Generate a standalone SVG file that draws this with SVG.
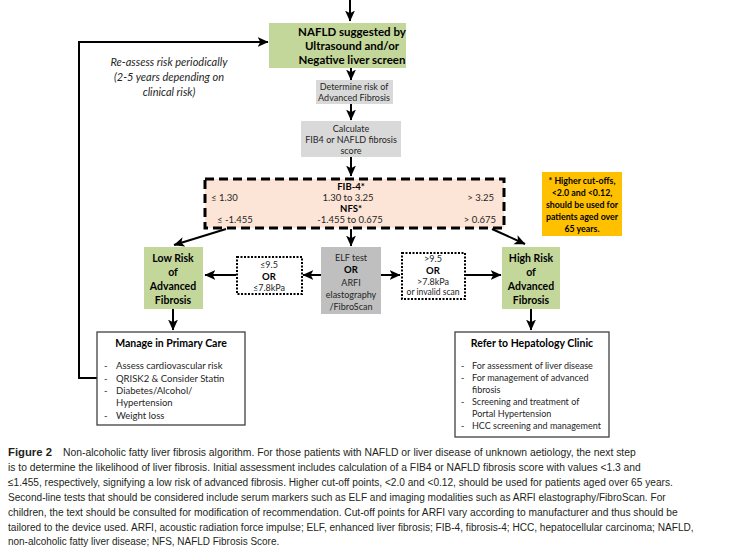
<svg xmlns="http://www.w3.org/2000/svg" width="729" height="554" viewBox="0 0 729 554">
<defs>
<marker id="ah" markerUnits="userSpaceOnUse" markerWidth="11" markerHeight="11" viewBox="0 0 10 10" refX="9.5" refY="5" orient="auto">
<path d="M0,0.5 L10,5 L0,9.5 L2.5,5 z" fill="#000"/>
</marker>
<style>
.t{font-family:Lato,"Open Sans","Liberation Sans",sans-serif;fill:#262626}
.b{font-weight:bold;fill:#000}
.c{text-anchor:middle}
.ar{fill:none;stroke:#000;stroke-width:2;marker-end:url(#ah)}
.green{fill:#c4d79b}
.grey{fill:#d9d9d9}
.dgrey{fill:#bfbfbf}
.dot{fill:#fff;stroke:#000;stroke-width:2;stroke-dasharray:2 1.5}
.list{fill:#fff;stroke:#404040;stroke-width:1.3}
.cap{font-family:"Liberation Sans",Arial,sans-serif;font-size:10.8px;fill:#231f20}
</style>
</defs>
<rect width="729" height="554" fill="#fff"/>

<g id="connectors">
<path class="ar" d="M350,0 V21"/>
<path class="ar" d="M351,68 V80"/>
<path class="ar" d="M351,104 V120"/>
<path class="ar" d="M351,157 V176"/>
<path class="ar" d="M351,229 V246"/>
<path class="ar" d="M226,229 L174,245"/>
<path class="ar" d="M492,229 L525,244"/>
<path class="ar" d="M321,275 H303"/>
<path class="ar" d="M236,275 H205"/>
<path class="ar" d="M381,275 H400"/>
<path class="ar" d="M466,275 H501"/>
<path class="ar" d="M173,309 V330"/>
<path class="ar" d="M531,309 V330"/>
<path class="ar" d="M97,378 H79 V42 H268"/>
</g>

<g id="reassess">
<text class="t c" x="169" y="66" font-size="11" font-style="italic">Re-assess risk periodically</text>
<text class="t c" x="169" y="81" font-size="11" font-style="italic">(2-5 years depending on</text>
<text class="t c" x="169" y="96" font-size="11" font-style="italic">clinical risk)</text>
</g>

<g id="nafld">
<rect class="green" x="269" y="23" width="137" height="45"/>
<text class="t b c" x="352" y="36" font-size="11.5">NAFLD suggested by</text>
<text class="t b c" x="352" y="50" font-size="11.5">Ultrasound and/or</text>
<text class="t b c" x="352" y="64" font-size="11.5">Negative liver screen</text>
</g>

<g id="determine">
<rect class="grey" x="316" y="80" width="77" height="24"/>
<text class="t c" x="354" y="90" font-size="9">Determine risk of</text>
<text class="t c" x="354" y="101" font-size="9">Advanced Fibrosis</text>
</g>

<g id="calculate">
<rect class="grey" x="301" y="121" width="100" height="36"/>
<text class="t c" x="351" y="132" font-size="9">Calculate</text>
<text class="t c" x="351" y="143" font-size="9">FIB4 or NAFLD fibrosis</text>
<text class="t c" x="351" y="154" font-size="9">score</text>
</g>

<g id="scores">
<rect x="205" y="179" width="299" height="49" fill="#fce4d6" stroke="#000" stroke-width="3" stroke-dasharray="9 5"/>
<text class="t b c" x="351" y="190" font-size="9.5">FIB-4*</text>
<text class="t" x="211" y="201" font-size="9.5">≤ 1.30</text>
<text class="t c" x="348" y="201" font-size="9.5">1.30 to 3.25</text>
<text class="t" x="494" y="201" font-size="9.5" text-anchor="end">&gt; 3.25</text>
<text class="t b c" x="351" y="212" font-size="9.5">NFS*</text>
<text class="t" x="217" y="222.5" font-size="9.5">≤ -1.455</text>
<text class="t c" x="350" y="222.5" font-size="9.5">-1.455 to 0.675</text>
<text class="t" x="496" y="222.5" font-size="9.5" text-anchor="end">&gt; 0.675</text>
</g>

<g id="note">
<rect x="542" y="172" width="80" height="64" fill="#ffc000"/>
<text class="t b c" x="582" y="184" font-size="8.8">* Higher cut-offs,</text>
<text class="t b c" x="582" y="196" font-size="8.8">&lt;2.0 and &lt;0.12,</text>
<text class="t b c" x="582" y="208" font-size="8.8">should be used for</text>
<text class="t b c" x="582" y="220" font-size="8.8">patients aged over</text>
<text class="t b c" x="582" y="232" font-size="8.8">65 years.</text>
</g>

<g id="lowrisk">
<rect class="green" x="144" y="247" width="59" height="62"/>
<text class="t b c" x="173" y="262" font-size="10.5">Low Risk</text>
<text class="t b c" x="173" y="276" font-size="10.5">of</text>
<text class="t b c" x="173" y="290" font-size="10.5">Advanced</text>
<text class="t b c" x="173" y="304" font-size="10.5">Fibrosis</text>
</g>

<g id="lowcut">
<rect class="dot" x="237" y="257" width="65" height="37"/>
<text class="t c" x="269" y="268" font-size="9" fill="#595959">≤9.5</text>
<text class="t b c" x="269" y="280" font-size="9.5">OR</text>
<text class="t c" x="269" y="291" font-size="9">≤7.8kPa</text>
</g>

<g id="elf">
<rect class="dgrey" x="321" y="247" width="60" height="67"/>
<text class="t c" x="351" y="261" font-size="9">ELF test</text>
<text class="t b c" x="351" y="273" font-size="9.5">OR</text>
<text class="t c" x="351" y="286" font-size="9">ARFI</text>
<text class="t c" x="351" y="298" font-size="9">elastography</text>
<text class="t c" x="351" y="310" font-size="9">/FibroScan</text>
</g>

<g id="highcut">
<rect class="dot" x="402" y="253" width="63" height="46"/>
<text class="t c" x="433" y="262" font-size="9">&gt;9.5</text>
<text class="t b c" x="433" y="274" font-size="9.5">OR</text>
<text class="t c" x="433" y="285" font-size="9">&gt;7.8kPa</text>
<text class="t c" x="433" y="295" font-size="8.5">or invalid scan</text>
</g>

<g id="highrisk">
<rect class="green" x="502" y="247" width="58" height="62"/>
<text class="t b c" x="531" y="262" font-size="10.5">High Risk</text>
<text class="t b c" x="531" y="276" font-size="10.5">of</text>
<text class="t b c" x="531" y="290" font-size="10.5">Advanced</text>
<text class="t b c" x="531" y="304" font-size="10.5">Fibrosis</text>
</g>

<g id="manage">
<rect class="list" x="97" y="332" width="148" height="93"/>
<text class="t b c" x="171" y="347" font-size="10.5">Manage in Primary Care</text>
<g font-size="9.5">
<text class="t" x="104" y="369">-</text><text class="t" x="116" y="369">Assess cardiovascular risk</text>
<text class="t" x="104" y="382">-</text><text class="t" x="116" y="382">QRISK2 &amp; Consider Statin</text>
<text class="t" x="104" y="394">-</text><text class="t" x="116" y="394">Diabetes/Alcohol/</text>
<text class="t" x="116" y="406">Hypertension</text>
<text class="t" x="104" y="419">-</text><text class="t" x="116" y="419">Weight loss</text>
</g>
</g>

<g id="refer">
<rect class="list" x="455" y="332" width="154" height="105"/>
<text class="t b c" x="532" y="347" font-size="10.5">Refer to Hepatology Clinic</text>
<g font-size="9">
<text class="t" x="461" y="369">-</text><text class="t" x="472" y="369">For assessment of liver disease</text>
<text class="t" x="461" y="381">-</text><text class="t" x="472" y="381">For management of advanced</text>
<text class="t" x="472" y="393">fibrosis</text>
<text class="t" x="461" y="405">-</text><text class="t" x="472" y="405">Screening and treatment of</text>
<text class="t" x="472" y="417">Portal Hypertension</text>
<text class="t" x="461" y="429">-</text><text class="t" x="472" y="429">HCC screening and management</text>
</g>
</g>

<g id="caption" transform="translate(8,0) scale(0.8,1)">
<text class="cap" x="0" y="456" font-weight="bold" textLength="55" lengthAdjust="spacingAndGlyphs">Figure 2</text>
<text class="cap" x="68.75" y="456" textLength="716" lengthAdjust="spacingAndGlyphs">Non-alcoholic fatty liver fibrosis algorithm. For those patients with NAFLD or liver disease of unknown aetiology, the next step</text>
<text class="cap" x="0" y="471" textLength="791" lengthAdjust="spacingAndGlyphs">is to determine the likelihood of liver fibrosis. Initial assessment includes calculation of a FIB4 or NAFLD fibrosis score with values &lt;1.3 and</text>
<text class="cap" x="0" y="486" textLength="831" lengthAdjust="spacingAndGlyphs">≤1.455, respectively, signifying a low risk of advanced fibrosis. Higher cut-off points, &lt;2.0 and &lt;0.12, should be used for patients aged over 65 years.</text>
<text class="cap" x="0" y="501" textLength="822" lengthAdjust="spacingAndGlyphs">Second-line tests that should be considered include serum markers such as ELF and imaging modalities such as ARFI elastography/FibroScan. For</text>
<text class="cap" x="0" y="516" textLength="837" lengthAdjust="spacingAndGlyphs">children, the text should be consulted for modification of recommendation. Cut-off points for ARFI vary according to manufacturer and thus should be</text>
<text class="cap" x="0" y="531" textLength="857" lengthAdjust="spacingAndGlyphs">tailored to the device used. ARFI, acoustic radiation force impulse; ELF, enhanced liver fibrosis; FIB-4, fibrosis-4; HCC, hepatocellular carcinoma; NAFLD,</text>
<text class="cap" x="0" y="545" textLength="339" lengthAdjust="spacingAndGlyphs">non-alcoholic fatty liver disease; NFS, NAFLD Fibrosis Score.</text>
</g>
</svg>
